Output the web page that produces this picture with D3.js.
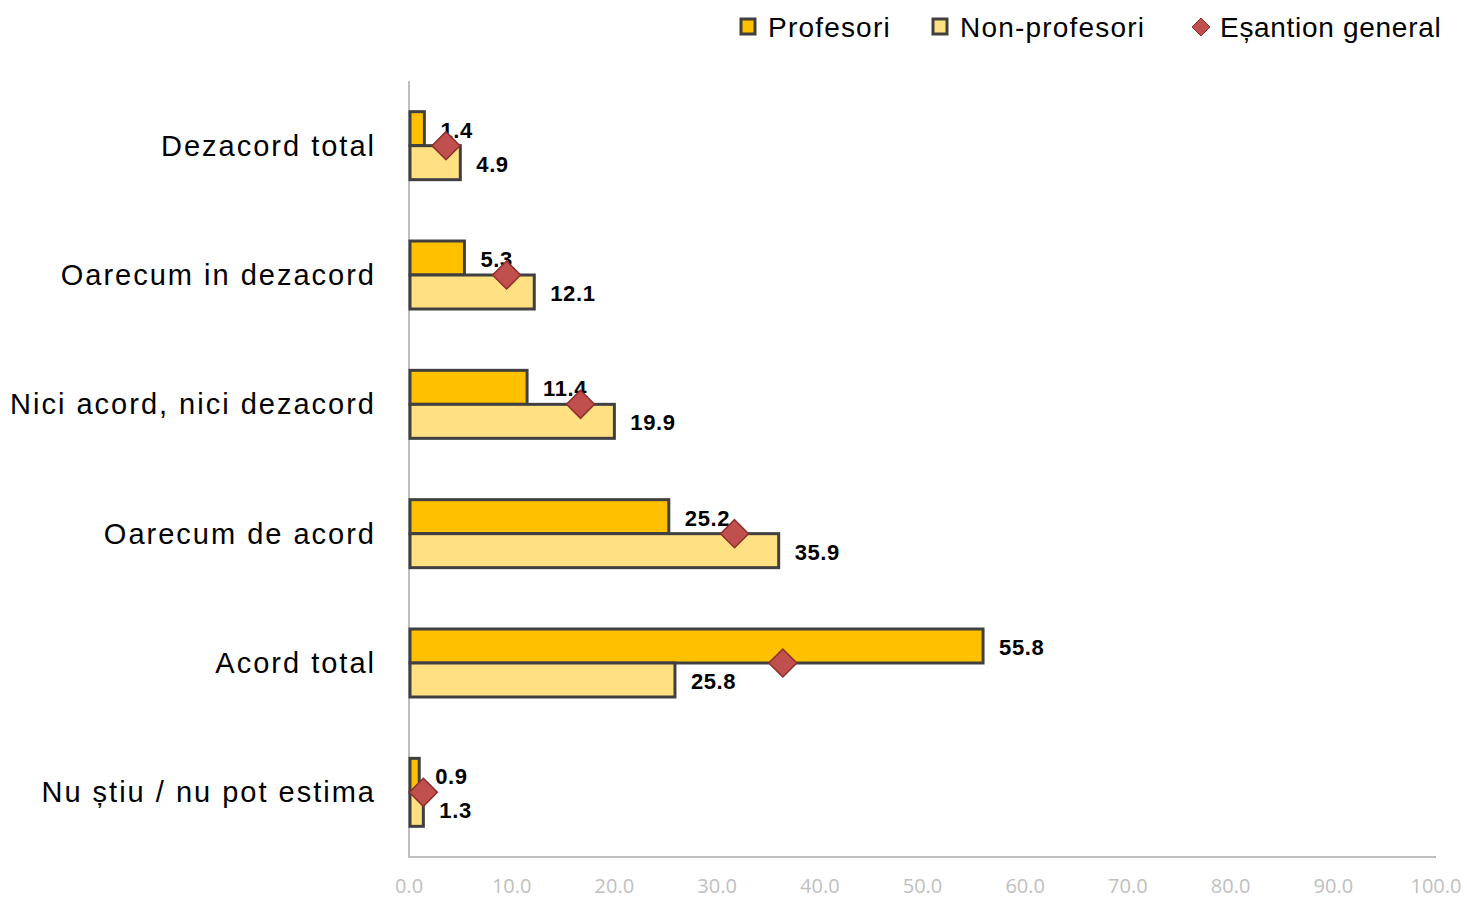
<!DOCTYPE html>
<html>
<head>
<meta charset="utf-8">
<script src="https://cdn.jsdelivr.net/npm/d3@7"></script>
<style>
  body { margin: 0; background: #fff; }
  svg { display: block; font-family: "Liberation Sans", Arial, sans-serif; }
</style>
</head>
<body>
<div id="chart1"></div>
<script>
'use strict';

var categories = ['Dezacord total', 'Oarecum in dezacord', 'Nici acord, nici dezacord',
  'Oarecum de acord', 'Acord total', 'Nu știu / nu pot estima'];
var profesori = [1.4, 5.3, 11.4, 25.2, 55.8, 0.9];
var nonProfesori = [4.9, 12.1, 19.9, 35.9, 25.8, 1.3];
var esantionGeneral = [3.6, 9.5, 16.7, 31.7, 36.4, 1.4];
var xTicks = [0, 10, 20, 30, 40, 50, 60, 70, 80, 90, 100];
var seriesNames = ['Profesori', 'Non-profesori', 'Eșantion general'];

var width = 1467, height = 899;
var margin = { top: 81, right: 31, bottom: 42, left: 409 };

var colProf = '#FFC000';
var colNon = '#FFE083';
var colDiamond = '#C0504D';
var barStroke = '#404040';

var svg = d3.select('#chart1').append('svg')
  .attr('width', width)
  .attr('height', height);

var x = d3.scaleLinear()
  .domain([0, 100])
  .range([margin.left, width - margin.right]);

var y = d3.scaleBand()
  .domain(categories)
  .range([margin.top, height - margin.bottom]);

var barH = 34;

// axes lines
svg.append('line')
  .attr('x1', x(0)).attr('x2', x(0))
  .attr('y1', margin.top).attr('y2', height - margin.bottom)
  .attr('stroke', '#bfbfbf').attr('stroke-width', 2);
svg.append('line')
  .attr('x1', x(0) - 1).attr('x2', x(100))
  .attr('y1', height - margin.bottom).attr('y2', height - margin.bottom)
  .attr('stroke', '#bfbfbf').attr('stroke-width', 2);

// tick labels
svg.selectAll('text.tick')
  .data(xTicks)
  .enter().append('text')
  .attr('class', 'tick')
  .attr('x', function(d) { return x(d); })
  .attr('y', 893)
  .attr('text-anchor', 'middle')
  .attr('font-family', '"Open Sans", "Liberation Sans", sans-serif')
  .attr('font-size', 20)
  .attr('fill', '#bfbfbf')
  .text(function(d) { return d.toFixed(1); });

// category labels
svg.selectAll('text.cat')
  .data(categories)
  .enter().append('text')
  .attr('class', 'cat')
  .attr('x', 376)
  .attr('y', function(d) { return y(d) + y.bandwidth() / 2 + 10; })
  .attr('text-anchor', 'end')
  .attr('font-size', 29)
  .attr('letter-spacing', 2)
  .attr('fill', '#000')
  .text(function(d) { return d; });

var g = svg.append('g');

// profesori bars
g.selectAll('rect.prof')
  .data(profesori)
  .enter().append('rect')
  .attr('class', 'prof')
  .attr('x', x(0) + 1)
  .attr('y', function(d, i) { return y(categories[i]) + y.bandwidth() / 2 - barH; })
  .attr('width', function(d) { return x(d) - x(0); })
  .attr('height', barH)
  .attr('fill', colProf)
  .attr('stroke', barStroke)
  .attr('stroke-width', 3);

// non-profesori bars
g.selectAll('rect.non')
  .data(nonProfesori)
  .enter().append('rect')
  .attr('class', 'non')
  .attr('x', x(0) + 1)
  .attr('y', function(d, i) { return y(categories[i]) + y.bandwidth() / 2; })
  .attr('width', function(d) { return x(d) - x(0); })
  .attr('height', barH)
  .attr('fill', colNon)
  .attr('stroke', barStroke)
  .attr('stroke-width', 3);

// value labels
g.selectAll('text.vprof')
  .data(profesori)
  .enter().append('text')
  .attr('class', 'vprof')
  .attr('x', function(d) { return x(d) + 17; })
  .attr('y', function(d, i) { return y(categories[i]) + y.bandwidth() / 2 - barH / 2 + 9; })
  .attr('font-size', 22)
  .attr('letter-spacing', 0.6)
  .attr('font-weight', 'bold')
  .text(function(d) { return d.toFixed(1); });

g.selectAll('text.vnon')
  .data(nonProfesori)
  .enter().append('text')
  .attr('class', 'vnon')
  .attr('x', function(d) { return x(d) + 17; })
  .attr('y', function(d, i) { return y(categories[i]) + y.bandwidth() / 2 + barH / 2 + 9; })
  .attr('font-size', 22)
  .attr('letter-spacing', 0.6)
  .attr('font-weight', 'bold')
  .text(function(d) { return d.toFixed(1); });

// diamonds
var dsz = 14;
g.selectAll('path.diamond')
  .data(esantionGeneral)
  .enter().append('path')
  .attr('class', 'diamond')
  .attr('d', 'M0,' + (-dsz) + 'L' + dsz + ',0L0,' + dsz + 'L' + (-dsz) + ',0Z')
  .attr('transform', function(d, i) {
    return 'translate(' + x(d) + ',' + (y(categories[i]) + y.bandwidth() / 2) + ')';
  })
  .attr('fill', colDiamond)
  .attr('stroke', '#8c2f2d')
  .attr('stroke-width', 1.5);

// legend
var legend = svg.append('g');
var lx = [740, 932];
[colProf, colNon].forEach(function(c, i) {
  legend.append('rect')
    .attr('x', lx[i] + 1).attr('y', 19)
    .attr('width', 14).attr('height', 15)
    .attr('fill', c)
    .attr('stroke', barStroke)
    .attr('stroke-width', 3);
  legend.append('text')
    .attr('x', lx[i] + 28).attr('y', 37)
    .attr('font-size', 28)
    .attr('letter-spacing', 1.2)
    .text(seriesNames[i]);
});
legend.append('path')
  .attr('d', 'M0,-9L9,0L0,9L-9,0Z')
  .attr('transform', 'translate(1201,27)')
  .attr('fill', colDiamond)
  .attr('stroke', '#8c2f2d')
  .attr('stroke-width', 1);
legend.append('text')
  .attr('x', 1220).attr('y', 37)
  .attr('font-size', 28)
  .attr('letter-spacing', 0.7)
  .text(seriesNames[2]);
</script>
</body>
</html>
